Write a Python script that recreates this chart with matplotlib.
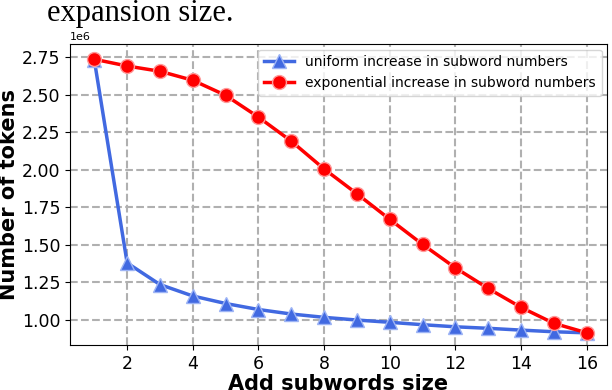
import numpy as np
import matplotlib
matplotlib.use("Agg")
import matplotlib.pyplot as plt
from matplotlib.ticker import MultipleLocator, FormatStrFormatter

# Add subwords size
sizes = np.arange(1, 17)

# Number of tokens
uniform_tokens = [2.73e6, 1.38e6, 1.236e6, 1.16e6, 1.11e6, 1.07e6, 1.04e6, 1.018e6,
                  1.0e6, 0.985e6, 0.969e6, 0.955e6, 0.945e6, 0.933e6, 0.922e6, 0.915e6]
expo_tokens = [2.735e6, 2.69e6, 2.655e6, 2.595e6, 2.495e6, 2.35e6, 2.19e6, 2.005e6,
               1.84e6, 1.67e6, 1.503e6, 1.347e6, 1.21e6, 1.084e6, 0.978e6, 0.915e6]

fig = plt.figure(figsize=(6.12, 3.9), dpi=100)
ax = fig.add_axes([0.1144, 0.1154, 0.8776, 0.7716])

ax.plot(sizes, uniform_tokens, color="royalblue", lw=2.5, marker="^", ms=10,
        mec="#9db4f5", mew=1.0, label="uniform increase in subword numbers")
ax.plot(sizes, expo_tokens, color="red", lw=2.5, marker="o", ms=10,
        mec="#ff9a9a", mew=1.0, label="exponential increase in subword numbers")

ax.set_xticks([2, 4, 6, 8, 10, 12, 14, 16])
ax.set_ylim(0.834e6, 2.836e6)
ax.set_xlim(0.26, 16.62)
ax.yaxis.set_major_locator(MultipleLocator(0.25e6))
ax.tick_params(labelsize=12.5)
ax.yaxis.get_offset_text().set_fontsize(8)
ax.grid(True, ls="--", lw=1.5, color="#b0b0b0")
ax.set_xlabel("Add subwords size", fontsize=15, fontweight="bold", labelpad=1)
ax.set_ylabel("Number of tokens", fontsize=15, fontweight="bold", labelpad=2)
ax.legend(loc="upper right", fontsize=10, handlelength=2.2, borderaxespad=0.4)

fig.text(0.077, 0.947, "expansion size.", fontsize=22,
         family=["Liberation Serif", "DejaVu Serif"], va="baseline")

fig.savefig("out.png", dpi=100)
